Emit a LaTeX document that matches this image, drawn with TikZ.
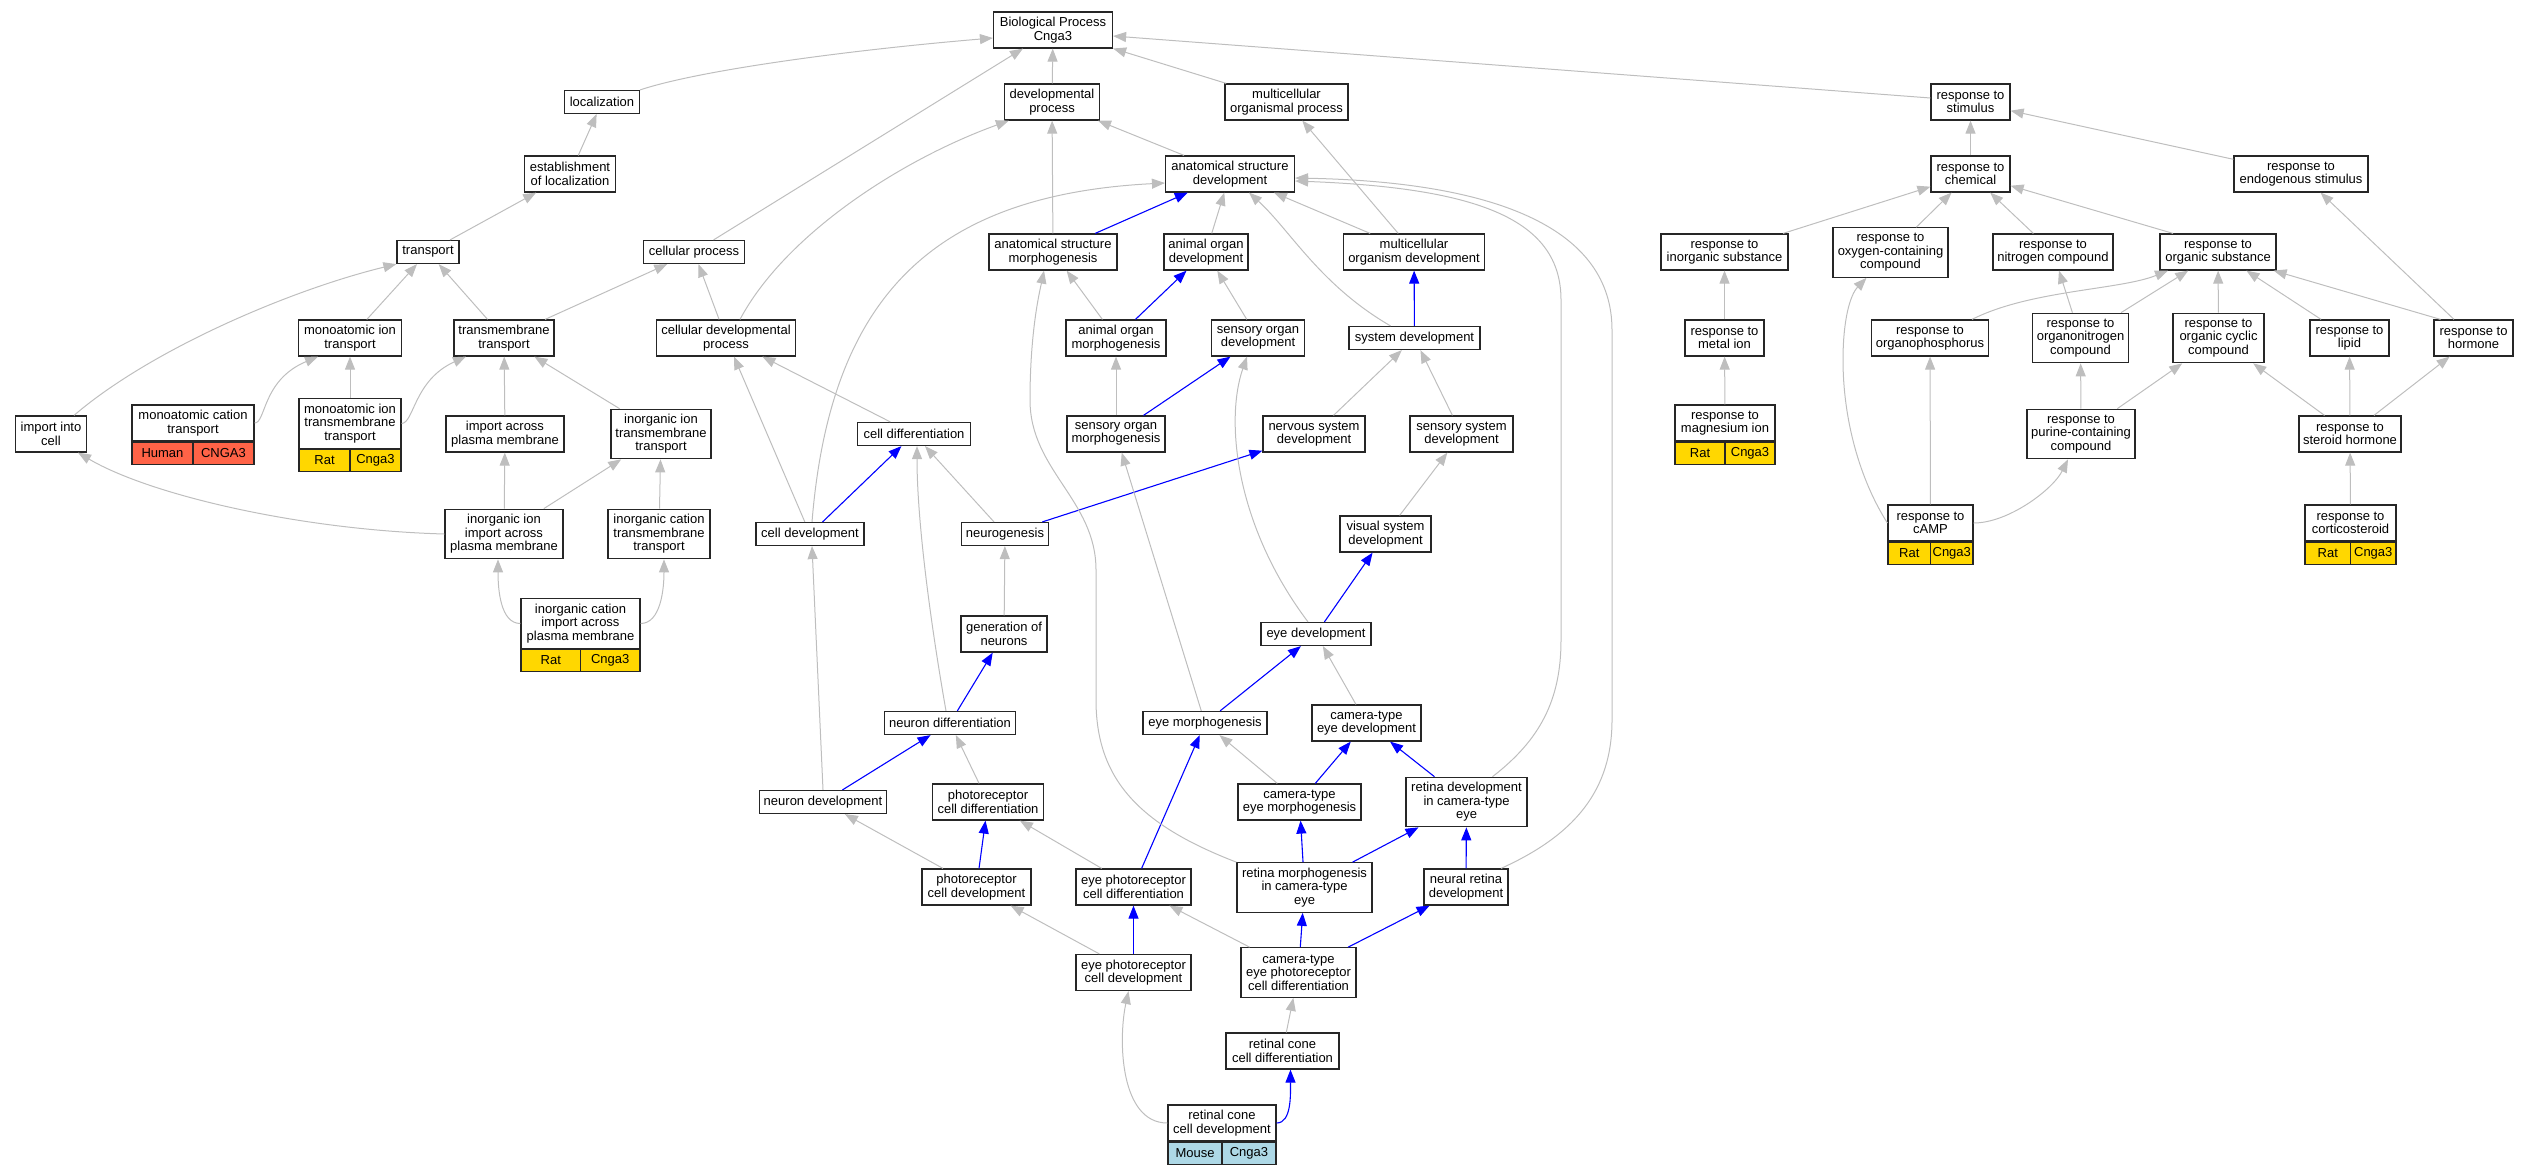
\documentclass[tikz,border=0pt]{standalone}
\usepackage{fontspec}
\setmainfont{Liberation Sans}
\usepackage{tikz}
\usetikzlibrary{arrows.meta}

\definecolor{edgegray}{HTML}{BEBEBE}
\definecolor{ratgold}{HTML}{FFD700}
\definecolor{humanred}{HTML}{FF6347}
\definecolor{mouseblue}{HTML}{ADD8E6}

\begin{document}
\begin{tikzpicture}[x=1pt, y=1pt,
        term/.style={draw=black!85, line width=1.2pt, fill=white, align=center,
            inner xsep=4pt, inner ysep=2pt, font=\fontsize{13pt}{13.5pt}\selectfont},
        oneline/.style={minimum height=23pt},
        twoline/.style={minimum height=36pt},
        threeline/.style={minimum height=49.5pt},
        gene/.style={draw=black!85, line width=1.2pt, inner xsep=1pt, inner ysep=0pt,
            minimum height=22pt, font=\fontsize{13pt}{13.5pt}\selectfont},
        isa/.style={draw=edgegray, line width=1pt, -{Triangle[length=13pt,width=10pt]}},
        partof/.style={draw=blue, line width=1.1pt, -{Triangle[length=13pt,width=10pt]}}]
    \useasboundingbox (0,0) rectangle (2529,-1173);

    % transport branch
    \node[term, twoline, minimum width=119pt] (bp) at (1053,-30) {Biological Process\\Cnga3};
    \node[term, oneline, minimum width=75pt] (loc) at (602,-102) {localization};
    \node[term, twoline, minimum width=91pt] (estab) at (570,-174) {establishment\\of localization};
    \node[term, oneline, minimum width=62pt] (transp) at (428,-252) {transport};
    \node[term, twoline, minimum width=103pt] (mit) at (350,-338) {monoatomic ion\\transport};
    \node[term, twoline, minimum width=100pt] (tmt) at (504,-338) {transmembrane\\transport};
    \node[term, twoline, minimum width=71pt] (imcell) at (51,-434) {import into\\cell};
    \node[term, twoline, minimum width=122pt] (mct) at (193,-423) {monoatomic cation\\transport};
    \node[gene, fill=humanred, minimum width=61pt, anchor=north west] (mct-sp) at (mct.south west) {Human};
    \node[gene, fill=humanred, minimum width=61pt, anchor=north east] (mct-gn) at (mct.south east) {CNGA3};
    \node[term, threeline, minimum width=102pt] (mitt) at (350,-423.5) {monoatomic ion\\transmembrane\\transport};
    \node[gene, fill=ratgold, minimum width=51pt, anchor=north west] (mitt-sp) at (mitt.south west) {Rat};
    \node[gene, fill=ratgold, minimum width=51pt, anchor=north east] (mitt-gn) at (mitt.south east) {Cnga3};
    \node[term, twoline, minimum width=118pt] (iapm) at (505,-434) {import across\\plasma membrane};
    \node[term, threeline, minimum width=100pt] (iitt) at (661,-434) {inorganic ion\\transmembrane\\transport};
    \node[term, threeline, minimum width=118pt] (iiiapm) at (504,-534) {inorganic ion\\import across\\plasma membrane};
    \node[term, threeline, minimum width=102pt] (ictt) at (659,-534) {inorganic cation\\transmembrane\\transport};
    \node[term, threeline, minimum width=119pt] (iciapm) at (580.5,-623.5) {inorganic cation\\import across\\plasma membrane};
    \node[gene, fill=ratgold, minimum width=59.5pt, anchor=north west] (iciapm-sp) at (iciapm.south west) {Rat};
    \node[gene, fill=ratgold, minimum width=59.5pt, anchor=north east] (iciapm-gn) at (iciapm.south east) {Cnga3};

    % development branch
    \node[term, oneline, minimum width=101pt] (cproc) at (694,-252) {cellular process};
    \node[term, twoline, minimum width=139pt] (cdp) at (726,-338) {cellular developmental\\process};
    \node[term, twoline, minimum width=95pt] (dp) at (1052,-102) {developmental\\process};
    \node[term, twoline, minimum width=123pt] (mop) at (1286.5,-102) {multicellular\\organismal process};
    \node[term, twoline, minimum width=129pt] (asd) at (1230,-174) {anatomical structure\\development};
    \node[term, twoline, minimum width=128pt] (asm) at (1053,-252) {anatomical structure\\morphogenesis};
    \node[term, twoline, minimum width=84pt] (aod) at (1206,-252) {animal organ\\development};
    \node[term, twoline, minimum width=141pt] (mod) at (1414,-252) {multicellular\\organism development};
    \node[term, twoline, minimum width=100pt] (aom) at (1116,-338) {animal organ\\morphogenesis};
    \node[term, twoline, minimum width=93pt] (sod) at (1258,-338) {sensory organ\\development};
    \node[term, oneline, minimum width=131pt] (sysdev) at (1414.5,-338) {system development};
    \node[term, oneline, minimum width=113pt] (cdiff) at (914,-434) {cell differentiation};
    \node[term, twoline, minimum width=98pt] (som) at (1116,-434) {sensory organ\\morphogenesis};
    \node[term, twoline, minimum width=102pt] (nsd) at (1314,-434) {nervous system\\development};
    \node[term, twoline, minimum width=103pt] (ssd) at (1461.5,-434) {sensory system\\development};
    \node[term, oneline, minimum width=108pt] (celldev) at (810,-534) {cell development};
    \node[term, oneline, minimum width=87pt] (neurog) at (1005,-534) {neurogenesis};
    \node[term, twoline, minimum width=91pt] (vsd) at (1385.5,-534) {visual system\\development};
    \node[term, twoline, minimum width=86pt] (gon) at (1004,-634) {generation of\\neurons};
    \node[term, oneline, minimum width=110pt] (eyedev) at (1316,-634) {eye development};
    \node[term, oneline, minimum width=131pt] (ndiff) at (950,-723) {neuron differentiation};
    \node[term, oneline, minimum width=124pt] (eyem) at (1205,-723) {eye morphogenesis};
    \node[term, twoline, minimum width=109pt] (cted) at (1366.5,-723) {camera-type\\eye development};
    \node[term, oneline, minimum width=126pt] (ndev) at (823,-802) {neuron development};
    \node[term, twoline, minimum width=111pt] (pcdiff) at (988,-802) {photoreceptor\\cell differentiation};
    \node[term, twoline, minimum width=123pt] (ctem) at (1299.5,-802) {camera-type\\eye morphogenesis};
    \node[term, threeline, minimum width=121pt] (rdev) at (1466.5,-802) {retina development\\in camera-type\\eye};
    \node[term, twoline, minimum width=109pt] (pcdev) at (976.5,-887) {photoreceptor\\cell development};
    \node[term, twoline, minimum width=115pt] (epcdiff) at (1133.5,-887) {eye photoreceptor\\cell differentiation};
    \node[term, threeline, minimum width=135pt] (rmorph) at (1304.5,-887.5) {retina morphogenesis\\in camera-type\\eye};
    \node[term, twoline, minimum width=84pt] (nrd) at (1466,-887) {neural retina\\development};
    \node[term, twoline, minimum width=115pt] (epcdev) at (1133.5,-972.5) {eye photoreceptor\\cell development};
    \node[term, threeline, minimum width=115pt] (ctepcd) at (1298.5,-972.5) {camera-type\\eye photoreceptor\\cell differentiation};
    \node[term, twoline, minimum width=113pt] (rccdiff) at (1282.5,-1051) {retinal cone\\cell differentiation};
    \node[term, twoline, minimum width=108pt] (rccdev) at (1222,-1123) {retinal cone\\cell development};
    \node[gene, fill=mouseblue, minimum width=54pt, anchor=north west] (rccdev-sp) at (rccdev.south west) {Mouse};
    \node[gene, fill=mouseblue, minimum width=54pt, anchor=north east] (rccdev-gn) at (rccdev.south east) {Cnga3};

    % response branch
    \node[term, twoline, minimum width=79pt] (rstim) at (1970.5,-102) {response to\\stimulus};
    \node[term, twoline, minimum width=79pt] (rchem) at (1970.5,-174) {response to\\chemical};
    \node[term, twoline, minimum width=134pt] (rendo) at (2301,-174) {response to\\endogenous stimulus};
    \node[term, twoline, minimum width=127pt] (rinorg) at (1724.5,-252) {response to\\inorganic substance};
    \node[term, threeline, minimum width=115pt] (roxy) at (1890.5,-252.5) {response to\\oxygen-containing\\compound};
    \node[term, twoline, minimum width=120pt] (rnitro) at (2053,-252) {response to\\nitrogen compound};
    \node[term, twoline, minimum width=116pt] (rorg) at (2218,-252) {response to\\organic substance};
    \node[term, twoline, minimum width=79pt] (rmetal) at (1724.5,-338) {response to\\metal ion};
    \node[term, twoline, minimum width=116pt] (rophos) at (1930,-338) {response to\\organophosphorus};
    \node[term, threeline, minimum width=95pt] (rorgn) at (2080.5,-338) {response to\\organonitrogen\\compound};
    \node[term, threeline, minimum width=91pt] (rcyc) at (2218.5,-338) {response to\\organic cyclic\\compound};
    \node[term, twoline, minimum width=79pt] (rlipid) at (2349.5,-338) {response to\\lipid};
    \node[term, twoline, minimum width=79pt] (rhorm) at (2473.5,-338) {response to\\hormone};
    \node[term, twoline, minimum width=100pt] (rmag) at (1725,-423) {response to\\magnesium ion};
    \node[gene, fill=ratgold, minimum width=50pt, anchor=north west] (rmag-sp) at (rmag.south west) {Rat};
    \node[gene, fill=ratgold, minimum width=50pt, anchor=north east] (rmag-gn) at (rmag.south east) {Cnga3};
    \node[term, threeline, minimum width=108pt] (rpur) at (2081,-434) {response to\\purine-containing\\compound};
    \node[term, twoline, minimum width=102pt] (rster) at (2350,-434) {response to\\steroid hormone};
    \node[term, twoline, minimum width=85pt] (rcamp) at (1930.5,-523) {response to\\cAMP};
    \node[gene, fill=ratgold, minimum width=42.5pt, anchor=north west] (rcamp-sp) at (rcamp.south west) {Rat};
    \node[gene, fill=ratgold, minimum width=42.5pt, anchor=north east] (rcamp-gn) at (rcamp.south east) {Cnga3};
    \node[term, twoline, minimum width=91pt] (rcort) at (2350.5,-523) {response to\\corticosteroid};
    \node[gene, fill=ratgold, minimum width=45.5pt, anchor=north west] (rcort-sp) at (rcort.south west) {Rat};
    \node[gene, fill=ratgold, minimum width=45.5pt, anchor=north east] (rcort-gn) at (rcort.south east) {Cnga3};

    % edges, transport branch
    \draw[isa] (loc.north east) .. controls (700,-70) and (850,-50) .. ([yshift=-8pt]bp.west);
    \draw[isa] (estab) -- (loc);
    \draw[isa] (transp) -- (estab);
    \draw[isa] (cproc) -- (bp);
    \draw[isa] (dp) -- (bp);
    \draw[isa] (mop) -- (bp);
    \draw[isa] ([yshift=4pt]rstim.west) -- ([yshift=-6pt]bp.east);
    \draw[isa] (mit) -- (transp);
    \draw[isa] (tmt) -- (transp);
    \draw[isa] ([xshift=23pt]imcell.north) .. controls (150,-350) and (290,-290) .. (transp.south west);
    \draw[isa] (tmt) -- (cproc);
    \draw[isa] (mct.east) .. controls (266,-423) and (262,-380) .. ([xshift=-32pt]mit.south);
    \draw[isa] (mitt) -- (mit);
    \draw[isa] (mitt.east) .. controls (414,-423) and (414,-380) .. ([xshift=-38pt]tmt.south);
    \draw[isa] (iapm) -- (tmt);
    \draw[isa] (iitt) -- (tmt);
    \draw[isa] (iiiapm) -- (iapm);
    \draw[isa] (iiiapm) -- (iitt);
    \draw[isa] (iiiapm.west) .. controls (300,-530) and (150,-495) .. ([xshift=27pt]imcell.south);
    \draw[isa] (ictt) -- (iitt);
    \draw[isa] (iciapm.west) .. controls +(-20,0) and +(0,-30) .. ([xshift=-6pt]iiiapm.south);
    \draw[isa] (iciapm.east) .. controls +(20,0) and +(0,-30) .. ([xshift=5pt]ictt.south);

    % edges, development branch
    \draw[isa] (cdp) -- (cproc);
    \draw[isa] ([xshift=14pt]cdp.north) .. controls (785,-235) and (900,-160) .. ([xshift=5pt]dp.south west);
    \draw[isa] (asd) -- (dp);
    \draw[isa] (asm) -- (dp);
    \draw[partof] (asm) -- (asd);
    \draw[isa] (aod) -- (asd);
    \draw[isa] (mod) -- (asd);
    \draw[isa] (mod) -- (mop);
    \draw[isa] ([xshift=-24pt]sysdev.north) .. controls (1320,-285) and (1290,-230) .. ([xshift=19pt]asd.south);
    \draw[partof] (sysdev) -- (mod);
    \draw[isa] ([xshift=2pt]celldev.north) .. controls (830,-300) and (930,-195) .. ([yshift=-9pt]asd.west);
    \draw[isa] (celldev) -- (cdp);
    \draw[partof] (celldev) -- (cdiff);
    \draw[isa] (cdiff) -- (cdp);
    \draw[isa] (neurog) -- (cdiff);
    \draw[partof] (neurog) -- (nsd);
    \draw[partof] (aom) -- (aod);
    \draw[isa] (aom) -- (asm);
    \draw[isa] (sod) -- (aod);
    \draw[isa] (som) -- (aom);
    \draw[partof] (som) -- (sod);
    \draw[isa] (nsd) -- (sysdev);
    \draw[isa] (ssd) -- (sysdev);
    \draw[isa] (vsd) -- (ssd);
    \draw[partof] (eyedev) -- (vsd);
    \draw[isa] ([xshift=-8pt]eyedev.north) .. controls (1235,-525) and (1225,-420) .. ([xshift=-11pt]sod.south);
    \draw[isa] (gon) -- (neurog);
    \draw[partof] (ndiff) -- (gon);
    \draw[isa] ([xshift=-4pt]ndiff.north) .. controls (930,-620) and (917,-520) .. ([xshift=3pt]cdiff.south);
    \draw[partof] (eyem) -- (eyedev);
    \draw[isa] (eyem) -- (som);
    \draw[isa] (cted) -- (eyedev);
    \draw[partof] (rdev) -- (cted);
    \draw[isa] ([xshift=26pt]rdev.north) .. controls (1540,-740) and (1561,-700) .. (1561,-640)
        -- (1561,-300) .. controls (1561,-220) and (1480,-188) .. ([yshift=-7pt]asd.east);
    \draw[isa] ([xshift=35pt]nrd.north) .. controls (1575,-835) and (1612,-790) .. (1612,-720)
        -- (1612,-330) .. controls (1612,-230) and (1500,-182) .. ([yshift=-4pt]asd.east);
    \draw[partof] (ctem) -- (cted);
    \draw[isa] (ctem) -- (eyem);
    \draw[partof] (ndev) -- (ndiff);
    \draw[isa] (ndev.north) -- ([xshift=2pt]celldev.south);
    \draw[isa] (pcdiff) -- (ndiff);
    \draw[partof] (pcdev) -- (pcdiff);
    \draw[isa] (pcdev) -- (ndev);
    \draw[isa] (epcdiff) -- (pcdiff);
    \draw[partof] (epcdiff) -- (eyem);
    \draw[partof] (epcdev) -- (epcdiff);
    \draw[isa] (epcdev) -- (pcdev);
    \draw[partof] (rmorph) -- (ctem);
    \draw[partof] (rmorph) -- (rdev);
    \draw[isa] (rmorph.north west) .. controls (1140,-825) and (1096,-780) .. (1096,-700)
        -- (1096,-570) .. controls (1096,-500) and (1030,-470) .. (1030,-400)
        .. controls (1030,-330) and (1040,-290) .. ([xshift=-9pt]asm.south);
    \draw[partof] (nrd) -- (rdev);
    \draw[partof] (ctepcd) -- (rmorph);
    \draw[partof] (ctepcd) -- (nrd);
    \draw[isa] (ctepcd) -- (epcdiff);
    \draw[isa] (rccdiff) -- (ctepcd);
    \draw[partof] (rccdev.east) .. controls +(15,0) and +(0,-25) .. ([xshift=8pt]rccdiff.south);
    \draw[isa] (rccdev.west) .. controls (1120,-1123) and (1118,-1040) .. ([xshift=-5pt]epcdev.south);

    % edges, response branch
    \draw[isa] (rchem) -- (rstim);
    \draw[isa] (rendo) -- (rstim);
    \draw[isa] (rinorg) -- (rchem);
    \draw[isa] (roxy) -- (rchem);
    \draw[isa] (rnitro) -- (rchem);
    \draw[isa] ([xshift=-45pt]rorg.north) -- (rchem);
    \draw[isa] (rmetal) -- (rinorg);
    \draw[isa] (rmag) -- (rmetal);
    \draw[isa] ([xshift=42pt]rophos.north) .. controls (2030,-290) and (2120,-290) .. ([xshift=-50pt]rorg.south);
    \draw[isa] (rorgn) -- (rnitro);
    \draw[isa] (rorgn) -- (rorg);
    \draw[isa] (rcyc) -- (rorg);
    \draw[isa] (rlipid) -- (rorg);
    \draw[isa] ([xshift=-33pt]rhorm.north) -- ([xshift=-3pt]rorg.south east);
    \draw[isa] (rhorm) -- (rendo);
    \draw[isa] (rcamp.west) .. controls (1860,-480) and (1843,-420) .. (1843,-360)
        .. controls (1843,-320) and (1850,-295) .. ([xshift=-24pt]roxy.south);
    \draw[isa] (rcamp) -- (rophos);
    \draw[isa] (rcamp.east) .. controls +(35,0) and +(-15,-30) .. ([xshift=-13pt]rpur.south);
    \draw[isa] (rpur) -- (rorgn);
    \draw[isa] (rpur) -- (rcyc);
    \draw[isa] (rster) -- (rcyc);
    \draw[isa] (rster) -- (rlipid);
    \draw[isa] (rster) -- (rhorm);
    \draw[isa] (rcort) -- (rster);
\end{tikzpicture}
\end{document}
